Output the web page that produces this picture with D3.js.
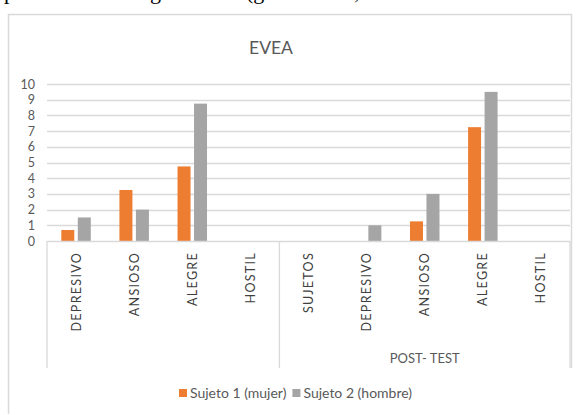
<!DOCTYPE html>
<html><head><meta charset="utf-8">
<script src="https://cdn.jsdelivr.net/npm/d3@7"></script>
<style>
html,body{margin:0;padding:0;background:#fff;}
svg{display:block;}
text{font-family:Lato,"Open Sans",sans-serif;}
</style></head>
<body>
<script>
const categories = ["DEPRESIVO","ANSIOSO","ALEGRE","HOSTIL","SUJETOS","DEPRESIVO","ANSIOSO","ALEGRE","HOSTIL"];
const groups = [{label:"", size:4},{label:"POST- TEST", size:5}];
const seriesNames = ["Sujeto 1 (mujer)","Sujeto 2 (hombre)"];
const sujeto1 = [0.7,3.25,4.75,0,0,0,1.25,7.25,0];
const sujeto2 = [1.5,2,8.75,0,0,1,3,9.5,0];
const yTicks = [0,1,2,3,4,5,6,7,8,9,10];
const colors = ["#ED7D31","#A5A5A5"];

const W=577,H=415;
const svg=d3.select("body").append("svg").attr("width",W).attr("height",H);

// fragment of document text above the chart (cropped by the page edge)
const frag=[["p",4],["g",150],["(g",246],[",",354]];
svg.selectAll("text.frag").data(frag).join("text").attr("class","frag")
  .attr("x",d=>d[1]).attr("y",-1).text(d=>d[0])
  .style("font-family","'Liberation Serif',serif").style("font-size","22px").attr("fill","#000");

// chart border
svg.append("path").attr("d","M8.5,414 V14.5 H571.5 V368").attr("fill","none").attr("stroke","#d9d9d9").attr("stroke-width",1.5);

svg.append("text").attr("x",271).attr("y",54).attr("text-anchor","middle")
  .style("font-size","17.5px").attr("fill","#595959").text("EVEA");

const left=47,right=570,y0=241,y10=84;
const x=d3.scaleBand().domain(d3.range(categories.length)).range([left,right]).paddingInner(0).paddingOuter(0);
const y=d3.scaleLinear().domain([0,10]).range([y0,y10]);

// gridlines
svg.append("g").selectAll("line").data(yTicks.filter(t=>t>0)).join("line")
  .attr("x1",left).attr("x2",right).attr("y1",d=>Math.round(y(d))+0.5).attr("y2",d=>Math.round(y(d))+0.5)
  .attr("stroke","#d9d9d9").attr("stroke-width",1.3);

// y axis labels
const yAxis=d3.axisLeft(y).tickValues(yTicks).tickSize(0).tickPadding(12);
const ga=svg.append("g").attr("transform",`translate(${left},0)`).call(yAxis);
ga.select(".domain").remove();
ga.selectAll("text").style("font-size","12.5px").attr("fill","#595959").style("font-family","Lato,'Open Sans',sans-serif");

// bars
const bw=13, gap=3.5;
const series=[sujeto1,sujeto2];
series.forEach((vals,si)=>{
  svg.append("g").selectAll("rect").data(vals).join("rect")
    .attr("x",(d,i)=>x(i)+x.bandwidth()/2 + (si===0? -gap/2-bw : gap/2))
    .attr("width",bw)
    .attr("y",d=>y(d)).attr("height",d=>y0-y(d))
    .attr("fill",colors[si]);
});

// x axis line
svg.append("line").attr("x1",left).attr("x2",right).attr("y1",y0+0.5).attr("y2",y0+0.5).attr("stroke","#d9d9d9").attr("stroke-width",1.3);
// group separators
let idx=0;
const seps=[0];
groups.forEach(g=>{idx+=g.size;seps.push(idx);});
svg.append("g").selectAll("line").data(seps).join("line")
  .attr("x1",d=>d===categories.length?right:x(d)).attr("x2",d=>d===categories.length?right:x(d))
  .attr("y1",y0).attr("y2",368).attr("stroke","#d9d9d9").attr("stroke-width",1.3);

// category labels
svg.append("g").selectAll("text").data(categories).join("text")
  .attr("transform",(d,i)=>`translate(${x(i)+x.bandwidth()/2+4.5},252) rotate(-90)`)
  .attr("text-anchor","end").style("font-size","12.5px").style("letter-spacing","1.3px")
  .attr("fill","#404040").text(d=>d);

// group labels
let start=0;
groups.forEach(g=>{
  const cx=(x(start)+ (start+g.size===categories.length?right:x(start+g.size)))/2;
  svg.append("text").attr("x",cx).attr("y",363).attr("text-anchor","middle")
    .style("font-size","13px").attr("fill","#595959").text(g.label);
  start+=g.size;
});

// legend
const lg=svg.append("g");
let lx=179;
seriesNames.forEach((n,i)=>{
  lg.append("rect").attr("x",lx).attr("y",389).attr("width",8).attr("height",8).attr("fill",colors[i]);
  const t=lg.append("text").attr("x",lx+11).attr("y",398).style("font-size","14px").attr("fill","#595959").text(n);
  lx+=11+t.node().getComputedTextLength()+6;
});
</script>
</body></html>
